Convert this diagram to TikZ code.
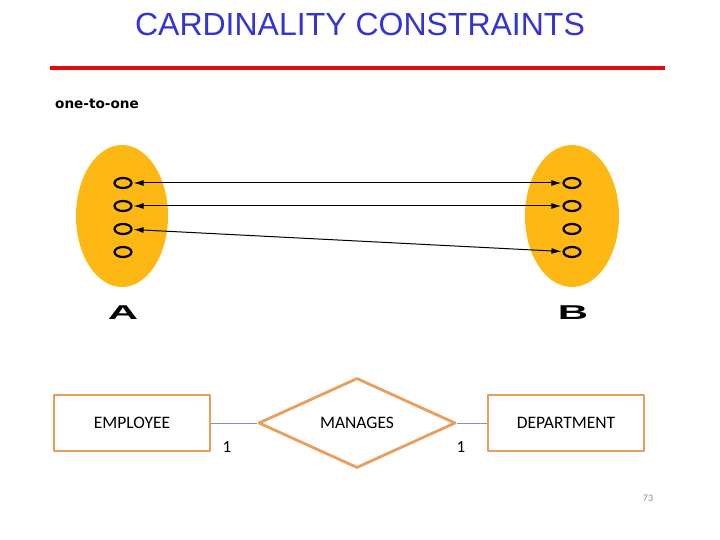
\documentclass[tikz,border=0pt]{standalone}
\usepackage{fontspec}
\setmainfont{Carlito}
\newfontfamily\titlefont{Liberation Sans}
\newfontfamily\tagfont{DejaVu Sans}
\usetikzlibrary{shapes.geometric,arrows.meta}
\definecolor{titleblue}{HTML}{3434D2}
\definecolor{rule}{HTML}{E20A0A}
\definecolor{setfill}{HTML}{FDB813}
\definecolor{erorange}{HTML}{EA9E5E}
\definecolor{linkgray}{HTML}{7F97AE}
\definecolor{pagegray}{HTML}{8C8C8C}

\begin{document}
\begin{tikzpicture}[x=1pt,y=-1pt,line join=round,
  setbox/.style={ellipse,fill=setfill,minimum width=92pt,minimum height=142pt,inner sep=0pt},
  item/.style={ellipse,draw=black,line width=2.2pt,minimum width=17pt,minimum height=10pt,inner sep=0pt},
  setname/.style={font=\titlefont\bfseries\fontsize{20}{20}\selectfont,xscale=2.1},
  map/.style={{Latex[length=10pt,width=6pt]}-{Latex[length=10pt,width=6pt]},line width=1pt,shorten <=1pt,shorten >=1pt},
  entity/.style={draw=erorange,line width=2.8pt,minimum width=156pt,minimum height=56pt,
    font=\fontsize{17.5}{17.5}\selectfont},
  relation/.style={diamond,draw=erorange,line width=2.8pt,minimum width=197pt,minimum height=90pt,
    inner sep=0pt,font=\fontsize{17.5}{17.5}\selectfont},
  link/.style={draw=linkgray,line width=0.7pt},
  card/.style={font=\fontsize{17}{17}\selectfont}]
  % canvas 720 x 540
  \useasboundingbox (0,0) rectangle (720,540);
  \fill[white] (0,0) rectangle (720,540);

  % ---- title ----
  \node[text=titleblue,font=\titlefont\fontsize{32}{32}\selectfont] (title) at (360,24) {CARDINALITY CONSTRAINTS};
  \draw[rule,line width=4pt] (50,68) -- (665,68);
  \node[anchor=west,font=\tagfont\bfseries\fontsize{13.6}{13.6}\selectfont,inner sep=0pt] (kind) at (55,104) {one-to-one};

  % ---- sets A and B ----
  \node[setbox] (setA) at (122,216) {};
  \node[setbox,minimum width=94pt] (setB) at (572,216) {};
  \foreach \i/\y in {1/183,2/206,3/229,4/252}{
    \node[item] (a\i) at (123,\y) {};
    \node[item] (b\i) at (572,\y) {};
  }
  \node[setname] (nameA) at (123,313) {A};
  \node[setname] (nameB) at (573,313) {B};

  % mapping arrows
  \draw[map] (a1) -- (b1);
  \draw[map] (a2) -- (b2);
  \draw[map] (a3) -- (b4);

  % ---- ER diagram ----
  \node[entity] (emp) at (132,423) {EMPLOYEE};
  \node[relation] (mgr) at (357,423) {MANAGES};
  \node[entity] (dept) at (566,423) {DEPARTMENT};
  \draw[link] (emp) -- (mgr);
  \draw[link] (mgr) -- (dept);
  \node[card] (c1) at (227,447) {1};
  \node[card] (c2) at (461,447) {1};

  % page number
  \node[text=pagegray,font=\fontsize{10}{10}\selectfont] (page) at (648,498) {73};
\end{tikzpicture}
\end{document}
